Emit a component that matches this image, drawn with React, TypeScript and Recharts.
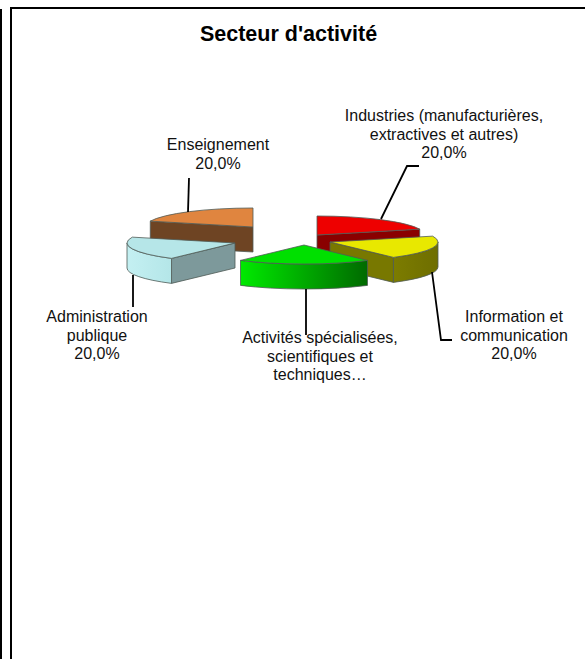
import { PieChart, Pie } from 'recharts';

// slices in drawing order (back to front), clockwise from the orange one
const categories = [
  'Enseignement',
  'Industries (manufacturières, extractives et autres)',
  'Information et communication',
  'Activités spécialisées, scientifiques et techniques…',
  'Administration publique',
];
const values = [20, 20, 20, 20, 20];
const labelLines = [
  ['Enseignement', '20,0%'],
  ['Industries (manufacturières,', 'extractives et autres)', '20,0%'],
  ['Information et', 'communication', '20,0%'],
  // the percentage of this one is cut off in the original
  ['Activités spécialisées,', 'scientifiques et', 'techniques…'],
  ['Administration', 'publique', '20,0%'],
];

const topColors = ['#e0853f', '#ee0000', '#e8e800', '#00e000', '#b6e6e8'];
const cutColors = ['#6e4423', '#8a0000', '#787800', '#007000', '#7d999b'];
const wallFrom = ['#6e4423', '#8a0000', '#7c7c00', '#00ea00', '#c4f0f2'];
const wallTo = ['#6e4423', '#8a0000', '#6e6e00', '#006a00', '#b4e6e8'];

// exploded offsets of each slice, from the pie centre
const shiftX = [-32, 32, 45, 19, -50];
const shiftY = [-8, 0, 7, 10, 8];

// label block centre, first line baseline, leader line
const labelX = [218, 444, 514, 320, 97];
const labelY = [150, 121, 322, 343, 322];
const leaders = [
  '188,212 189,178',
  '381,219 407,166 419,166',
  '432,272 441,340 452,340',
  '306,289 306,335',
  '133,275 133,307',
];

const data = categories.map((name, i) => ({ name, value: values[i] }));

const TILT = 0.176;
const DEPTH = 25;
const FONT = '"Liberation Sans", Arial, sans-serif';

function Slice3D(props: any) {
  const { cx, cy, outerRadius: r, startAngle, endAngle, name } = props;
  const i = categories.indexOf(name ?? props.payload?.name);
  const ax = cx + shiftX[i];
  const ay = cy + shiftY[i];
  // clockwise angle from the top of the pie
  const t1 = 90 - startAngle;
  const t2 = 90 - endAngle;
  const pt = (t: number) => {
    const rad = (t * Math.PI) / 180;
    return { x: ax + r * Math.sin(rad), y: ay - r * TILT * Math.cos(rad) };
  };
  const a = pt(t1);
  const b = pt(t2);
  const top = `M${ax},${ay} L${a.x},${a.y} A${r},${r * TILT} 0 0 1 ${b.x},${b.y} Z`;

  const cut = (p: { x: number; y: number }) =>
    `M${ax},${ay} L${p.x},${p.y} L${p.x},${p.y + DEPTH} L${ax},${ay + DEPTH} Z`;
  const showStart = Math.cos(((t1 - 90) * Math.PI) / 180) < -0.01;
  const showEnd = Math.cos(((t2 + 90) * Math.PI) / 180) < -0.01;

  const wa = Math.max(t1, 90);
  const wb = Math.min(t2, 270);
  let wall = null;
  if (wa < wb) {
    const p = pt(wa);
    const q = pt(wb);
    wall = `M${p.x},${p.y} A${r},${r * TILT} 0 0 1 ${q.x},${q.y} L${q.x},${q.y + DEPTH} A${r},${r * TILT} 0 0 0 ${p.x},${p.y + DEPTH} Z`;
  }

  const edge = { stroke: '#4f5a55', strokeWidth: 0.8, strokeLinejoin: 'round' as const };
  return (
    <g>
      <defs>
        <linearGradient id={`wall-${i}`} x1="0" y1="0" x2="1" y2="0">
          <stop offset="0%" stopColor={wallFrom[i]} />
          <stop offset="100%" stopColor={wallTo[i]} />
        </linearGradient>
      </defs>
      {showStart && <path d={cut(a)} fill={cutColors[i]} {...edge} />}
      {showEnd && <path d={cut(b)} fill={cutColors[i]} {...edge} />}
      {wall && <path d={wall} fill={`url(#wall-${i})`} {...edge} />}
      <path d={top} fill={topColors[i]} {...edge} />
    </g>
  );
}

function SliceLabel(props: any) {
  const i = props.index;
  return (
    <g>
      <polyline points={leaders[i]} fill="none" stroke="#000" strokeWidth={1.8} />
      <text textAnchor="middle" fontFamily={FONT} fontSize={16} fill="#111">
        {labelLines[i].map((line, k) => (
          <tspan key={k} x={labelX[i]} y={labelY[i] + k * 18.5}>
            {line}
          </tspan>
        ))}
      </text>
    </g>
  );
}

const bar = (left: number, top: number, width: number, height: number) => (
  <div style={{ position: 'absolute', left, top, width, height, background: '#000' }} />
);

export default function App() {
  return (
    <div style={{ position: 'absolute', left: 0, top: 0, width: 585, height: 659, overflow: 'hidden', background: '#fff' }}>
      {bar(0, 9, 2, 650)}
      {bar(10, 7, 2, 652)}
      {bar(10, 7, 575, 2)}
      <div style={{ position: 'absolute', left: 0, top: 0 }}>
        <PieChart width={585} height={659} margin={{ top: 0, right: 0, bottom: 0, left: 0 }}>
          <text x={288.5} y={41} textAnchor="middle" fontFamily={FONT} fontSize={21.5} fontWeight="bold" fill="#000">
            Secteur d'activité
          </text>
          <Pie
            data={data}
            dataKey="value"
            nameKey="name"
            cx={285}
            cy={235}
            outerRadius={108}
            startAngle={162}
            endAngle={-198}
            stroke="none"
            shape={Slice3D}
            label={SliceLabel}
            labelLine={false}
            isAnimationActive={false}
          />
        </PieChart>
      </div>
    </div>
  );
}
